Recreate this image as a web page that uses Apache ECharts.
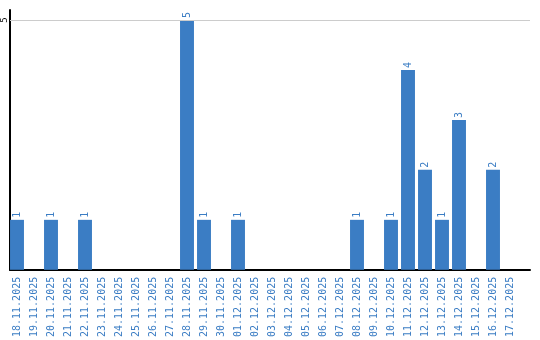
<!DOCTYPE html>
<html><head><meta charset="utf-8">
<script src="https://cdn.jsdelivr.net/npm/echarts@6/dist/echarts.min.js"></script>
<style>html,body{margin:0;padding:0;background:#fff}#c{width:540px;height:340px}</style>
</head><body><div id="c"></div>
<script>
const categories = ["18.11.2025","19.11.2025","20.11.2025","21.11.2025","22.11.2025","23.11.2025","24.11.2025","25.11.2025","26.11.2025","27.11.2025","28.11.2025","29.11.2025","30.11.2025","01.12.2025","02.12.2025","03.12.2025","04.12.2025","05.12.2025","06.12.2025","07.12.2025","08.12.2025","09.12.2025","10.12.2025","11.12.2025","12.12.2025","13.12.2025","14.12.2025","15.12.2025","16.12.2025","17.12.2025"];
const values = [1,0,1,0,1,0,0,0,0,0,5,1,0,1,0,0,0,0,0,0,1,0,1,4,2,1,3,0,2,0];
const yTicks = [5];
const blue = '#3b7dc4';
const yMax = 5.2;
const mono = 'DejaVu Sans Mono';
const chart = echarts.init(document.getElementById('c'));
chart.setOption({
  animation: false,
  grid: [
    {left: 8.5, right: 21.5, top: 10, bottom: 70, containLabel: false},
    {left: 10, right: 10, top: 10, bottom: 70, containLabel: false}
  ],
  xAxis: [{
    type: 'category', data: categories, gridIndex: 0,
    axisLine: {show: false},
    axisTick: {show: false},
    axisLabel: {rotate: 90, color: blue, fontFamily: mono, fontSize: 10, margin: 7, interval: 0}
  }, {
    type: 'value', gridIndex: 1, min: 0, max: 1,
    axisLine: {show: true, onZero: false, lineStyle: {color: '#000', width: 2}},
    axisTick: {show: false}, axisLabel: {show: false}, splitLine: {show: false}
  }],
  yAxis: [{
    type: 'value', gridIndex: 0, min: 0, max: yMax,
    axisLine: {show: false}, axisTick: {show: false}, axisLabel: {show: false}, splitLine: {show: false}
  }, {
    type: 'value', gridIndex: 1, min: 0, max: yMax, interval: 5,
    axisLine: {show: true, onZero: false, lineStyle: {color: '#000', width: 2}},
    axisTick: {show: false},
    axisLabel: {rotate: 90, color: '#000', fontFamily: mono, fontSize: 9, margin: 5, align: 'center', verticalAlign: 'middle',
      formatter: v => yTicks.includes(v) ? String(v) : ''},
    splitLine: {show: false}
  }],
  series: [{
    type: 'line', xAxisIndex: 1, yAxisIndex: 1, data: [], silent: true,
    markLine: {silent: true, symbol: 'none', label: {show: false},
      lineStyle: {color: '#ccc', width: 1, type: 'solid'},
      data: yTicks.map(t => ({yAxis: t}))}
  }, {
    type: 'bar', xAxisIndex: 0, yAxisIndex: 0, data: values.map(v => v === 0 ? null : v),
    barCategoryGap: '18%',
    itemStyle: {color: blue},
    label: {show: true, position: 'top', rotate: 90, color: blue, fontFamily: mono, fontSize: 10, distance: 2, align: 'left', verticalAlign: 'middle'}
  }]
});
</script></body></html>
